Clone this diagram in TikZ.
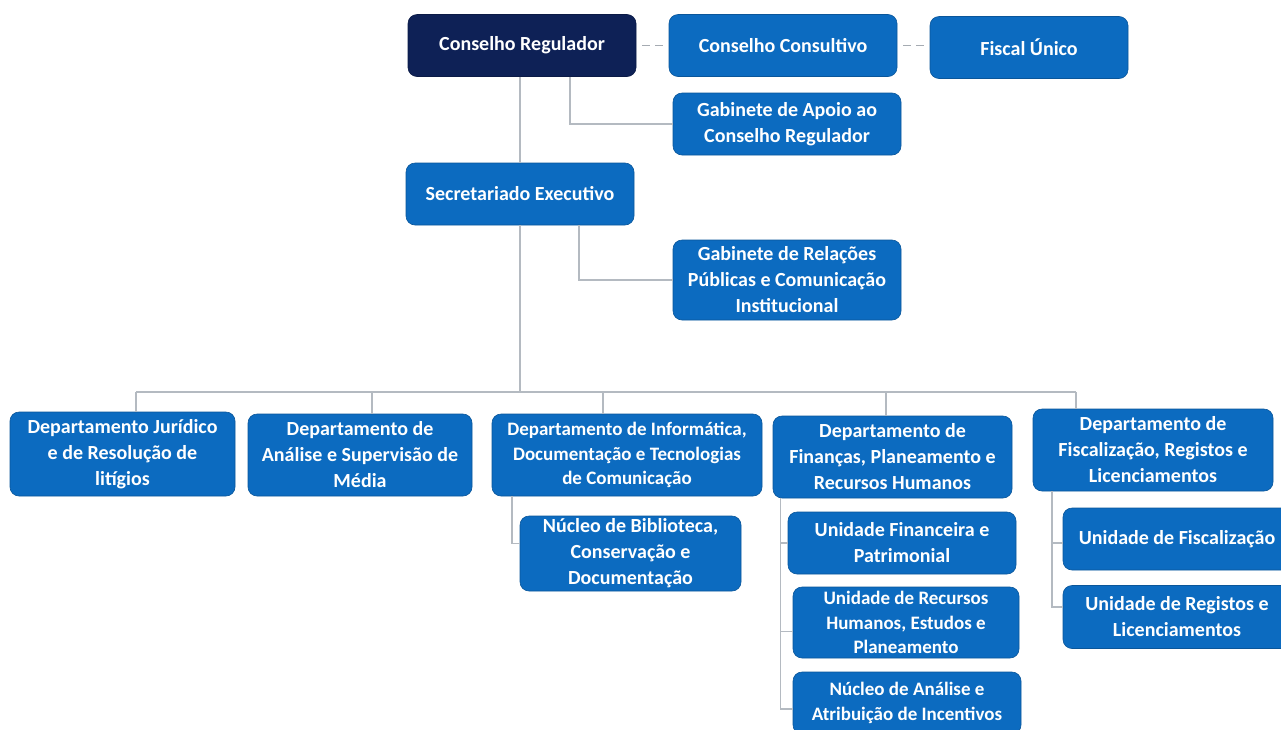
\documentclass[tikz,border=0pt]{standalone}
\usepackage{fontspec}
\setmainfont{Carlito}
\usetikzlibrary{positioning}
\definecolor{navy}{RGB}{14,33,86}
\definecolor{boxblue}{RGB}{12,107,192}
\definecolor{linegray}{RGB}{180,186,193}
\definecolor{dashgray}{RGB}{165,171,178}

\begin{document}
\begin{tikzpicture}[x=1pt, y=-1pt,
		main node/.style={rectangle, rounded corners=9pt, fill=boxblue, draw=boxblue!80!black, line width=0.6pt,
			text=white, align=center, inner sep=2pt, font=\fontsize{20}{26}\selectfont\bfseries,
			minimum width=228pt, minimum height=62pt},
		small node/.style={main node, font=\fontsize{19}{24.5}\selectfont\bfseries},
		top node/.style={main node, fill=navy, draw=navy!80!black},
		link/.style={draw=linegray, line width=1.5pt},
		side link/.style={draw=dashgray, line width=1.5pt, dash pattern=on 8pt off 5pt}]

			\fill[white] (0,0) rectangle (1281,729);
			\useasboundingbox (0,0) rectangle (1281,729);

			% top levels
			\node[top node] (CR) at (522,45.5) {Conselho Regulador};
			\node[main node] (CC) at (783,45.5) {Conselho Consultivo};
			\node[main node, minimum width=198pt] (FU) at (1029,47.5) {Fiscal Único};
			\node[main node] (GACR) at (787,124) {Gabinete de Apoio ao\\Conselho Regulador};
			\node[main node] (SE) at (520,194) {Secretariado Executivo};
			\node[main node, minimum height=80pt] (GRP) at (787,280) {Gabinete de Relações\\Públicas e Comunicação\\Institucional};

			% departments
			\node[main node, minimum width=225pt, minimum height=84pt] (D1) at (122.5,454) {Departamento Jurídico\\e de Resolução de\\litígios};
			\node[main node, minimum width=224pt, minimum height=82pt] (D2) at (360,455) {Departamento de\\Análise e Supervisão de\\Média};
			\node[small node, minimum width=270pt, minimum height=82pt] (D3) at (627,455) {Departamento de Informática,\\Documentação e Tecnologias\\de Comunicação};
			\node[main node, minimum width=239pt, minimum height=82pt] (D4) at (892.5,457) {Departamento de\\Finanças, Planeamento e\\Recursos Humanos};
			\node[main node, minimum width=240pt, minimum height=82pt] (D5) at (1153,450) {Departamento de\\Fiscalização, Registos e\\Licenciamentos};

			% units
			\node[main node, minimum width=221pt, minimum height=75pt] (NB) at (630.5,553.5) {Núcleo de Biblioteca,\\Conservação e\\Documentação};
			\node[main node] (UFP) at (902,543) {Unidade Financeira e\\Patrimonial};
			\node[small node, minimum width=226pt, minimum height=71pt] (URH) at (906,622.5) {Unidade de Recursos\\Humanos, Estudos e\\Planeamento};
			\node[small node, minimum height=62pt] (NAA) at (907,703) {Núcleo de Análise e\\Atribuição de Incentivos};
			\node[main node] (UF) at (1177,539) {Unidade de Fiscalização};
			\node[main node, minimum height=63pt] (URL) at (1177,617) {Unidade de Registos e\\Licenciamentos};

			% connectors
			\draw[side link] ([xshift=6pt]CR.east) -- ([xshift=-6pt]CC.west);
			\draw[side link] ([xshift=6pt]CC.east) -- ([xshift=-6pt]CC.east -| FU.west);
			\draw[link] (CR.south -| SE.north) -- (SE.north);
			\draw[link] ([xshift=48pt]CR.south) |- (GACR.west);
			\draw[link] ([xshift=59pt]SE.south) |- (GRP.west);

			\coordinate (bus) at (520,392);
			\coordinate (b1) at (136,392);
			\coordinate (b2) at (372,392);
			\coordinate (b3) at (603,392);
			\coordinate (b4) at (886,392);
			\coordinate (b5) at (1076,392);
			\draw[link] (SE.south) -- (bus);
			\draw[link] (b1) -- (b5);
			\foreach \i in {1,...,5}
				\draw[link] (b\i) -- (b\i |- D\i.north);

			\draw[link] ([xshift=-115pt]D3.south) |- ([yshift=10pt]NB.west);
			\draw[link] ([xshift=-112pt]D4.south) |- (UFP.west);
			\draw[link] ([xshift=-112pt]D4.south) |- ([yshift=-9pt]URH.west);
			\draw[link] ([xshift=-112pt]D4.south) |- ([yshift=-6pt]NAA.west);
			\draw[link] ([xshift=-101pt]D5.south) |- ([yshift=-4pt]UF.west);
			\draw[link] ([xshift=-101pt]D5.south) |- ([yshift=10pt]URL.west);
			\end{tikzpicture}
\end{document}
